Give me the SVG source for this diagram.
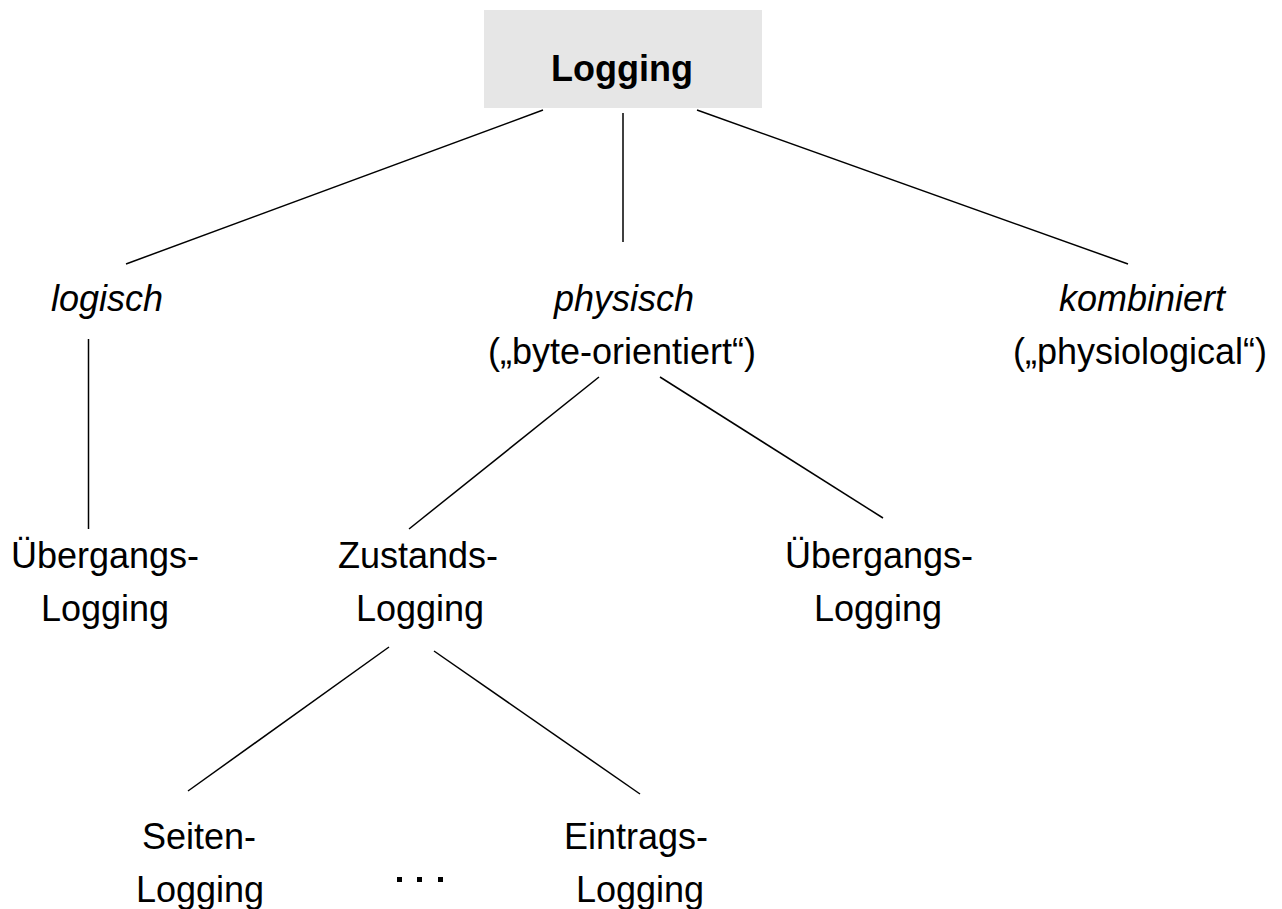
<svg xmlns="http://www.w3.org/2000/svg" width="1282" height="909" viewBox="0 0 1282 909">
<style>
text{font-family:"Liberation Sans",Arial,sans-serif;font-size:36px;fill:#000;text-anchor:middle}
.b{font-weight:bold}
.i{font-style:italic}
.c line{stroke:#000;stroke-width:1.5}
</style>
<rect width="1282" height="909" fill="#fff"/>
<g class="c" id="connectors">
<line x1="543" y1="110" x2="126" y2="264"/>
<line x1="623" y1="113" x2="623" y2="242"/>
<line x1="697" y1="110" x2="1128" y2="264"/>
<line x1="88.5" y1="339" x2="88.5" y2="529"/>
<line x1="599" y1="377" x2="409" y2="529"/>
<line x1="660" y1="377" x2="883" y2="518"/>
<line x1="389" y1="647" x2="188" y2="791"/>
<line x1="434" y1="651" x2="640" y2="794"/>
</g>
<g id="root">
<rect x="484" y="10" width="278" height="98" fill="#e6e6e6"/>
<text class="b" x="622" y="81">Logging</text>
</g>
<g id="logisch"><text class="i" x="107" y="311">logisch</text></g>
<g id="physisch"><text class="i" x="624" y="311">physisch</text><text x="622" y="364">(„byte-orientiert“)</text></g>
<g id="kombiniert"><text class="i" x="1142" y="311">kombiniert</text><text x="1140" y="364">(„physiological“)</text></g>
<g id="uebergang1"><text x="105" y="568">Übergangs-</text><text x="105" y="621">Logging</text></g>
<g id="zustands"><text x="418" y="568">Zustands-</text><text x="420" y="621">Logging</text></g>
<g id="uebergang2"><text x="879" y="568">Übergangs-</text><text x="878" y="621">Logging</text></g>
<g id="seiten"><text x="199" y="849">Seiten-</text><text x="200" y="902">Logging</text></g>
<g id="eintrags"><text x="636" y="849">Eintrags-</text><text x="640" y="902">Logging</text></g>
<g id="dots">
<rect x="397" y="877" width="5" height="5"/>
<rect x="417" y="877" width="5" height="5"/>
<rect x="438" y="877" width="5" height="5"/>
</g>
</svg>
